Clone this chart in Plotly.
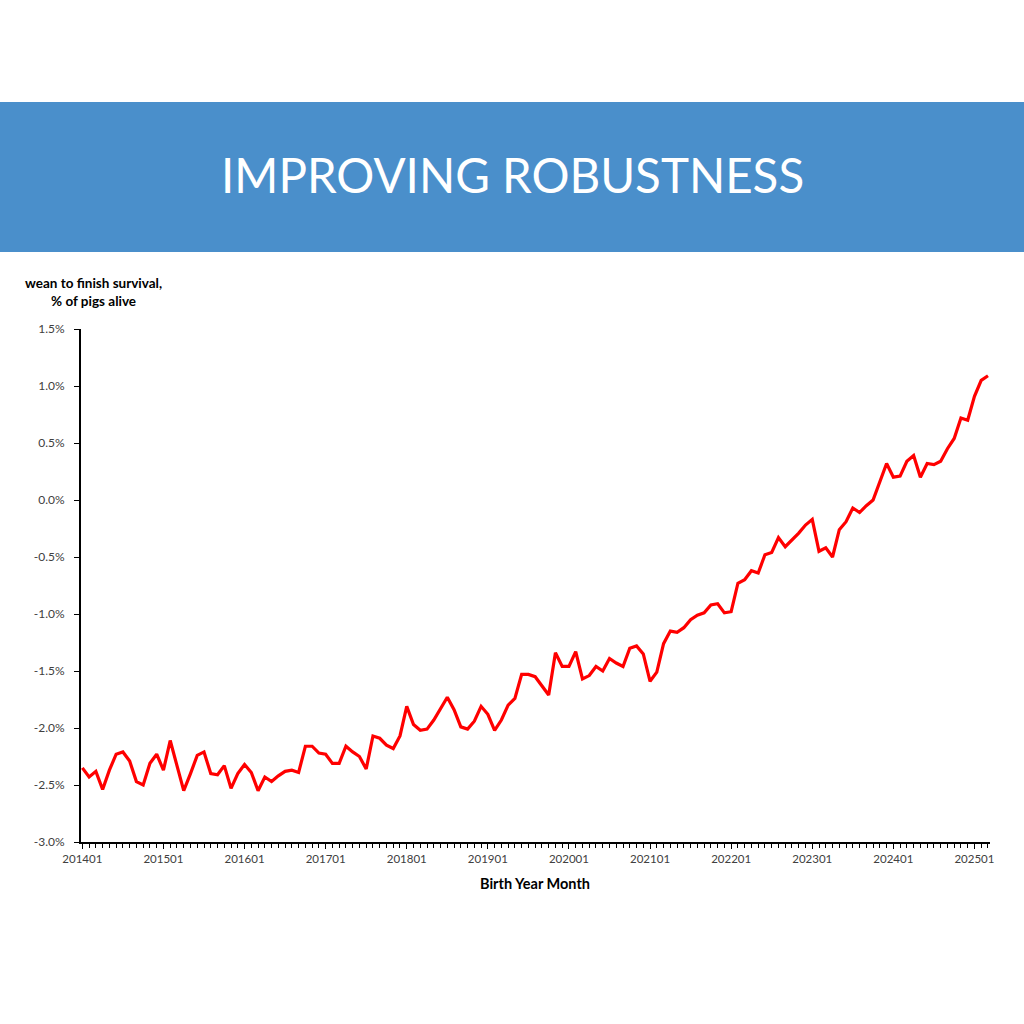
import plotly.graph_objects as go

# Months 201401 .. 202503 (135 monthly values)
years = list(range(2014, 2026))
months = [f"{y}{m:02d}" for y in years for m in range(1, 13)][:135]

survival = [
    -2.35, -2.43, -2.38, -2.54, -2.37, -2.23, -2.21, -2.29, -2.47, -2.50, -2.31, -2.23,
    -2.37, -2.11, -2.33, -2.55, -2.40, -2.24, -2.21, -2.40, -2.41, -2.33, -2.53, -2.40,
    -2.32, -2.39, -2.55, -2.43, -2.47, -2.42, -2.38, -2.37, -2.39, -2.16, -2.16, -2.22,
    -2.23, -2.31, -2.31, -2.16, -2.21, -2.25, -2.36, -2.07, -2.09, -2.15, -2.18, -2.07,
    -1.81, -1.97, -2.02, -2.01, -1.93, -1.83, -1.73, -1.84, -1.99, -2.01, -1.94, -1.81,
    -1.88, -2.02, -1.93, -1.80, -1.74, -1.53, -1.53, -1.55, -1.63, -1.71, -1.34, -1.46,
    -1.46, -1.33, -1.57, -1.54, -1.46, -1.50, -1.39, -1.43, -1.46, -1.30, -1.28, -1.35,
    -1.59, -1.51, -1.26, -1.15, -1.16, -1.12, -1.05, -1.01, -0.99, -0.92, -0.91, -0.99,
    -0.98, -0.73, -0.70, -0.62, -0.64, -0.48, -0.46, -0.33, -0.41, -0.35, -0.29, -0.22,
    -0.17, -0.45, -0.42, -0.50, -0.26, -0.19, -0.07, -0.11, -0.05, 0.00, 0.16, 0.32,
    0.20, 0.21, 0.34, 0.39, 0.20, 0.32, 0.31, 0.34, 0.45, 0.54, 0.72, 0.70,
    0.91, 1.05, 1.09,
]

x_tick_labels = [f"{y}01" for y in range(2014, 2026)]
y_ticks = [-3.0, -2.5, -2.0, -1.5, -1.0, -0.5, 0.0, 0.5, 1.0, 1.5]
y_tick_labels = ["-3.0%", "-2.5%", "-2.0%", "-1.5%", "-1.0%", "-0.5%", "0.0%", "0.5%", "1.0%", "1.5%"]

title_text = "IMPROVING ROBUSTNESS"
y_title = "wean to finish survival,<br>% of pigs alive"
x_title = "Birth Year Month"

idx = list(range(len(survival)))
x_tick_vals = [months.index(lbl) for lbl in x_tick_labels]

fig = go.Figure()
fig.add_trace(go.Scatter(
    x=idx, y=survival, mode="lines",
    line=dict(color="#FF0000", width=3.2),
    customdata=months, hovertemplate="%{customdata}: %{y:.2f}%<extra></extra>",
))

L, R, T, B = 81, 34, 329, 182
W, H = 1024, 1024
pw = W - L - R
ph = H - T - B

def py(pix):
    return (H - B - pix) / ph

def px(pix):
    return (pix - L) / pw

fig.update_layout(
    width=W, height=H,
    margin=dict(l=L, r=R, t=T, b=B),
    paper_bgcolor="white", plot_bgcolor="white",
    showlegend=False,
    font=dict(family="Lato, 'Open Sans', sans-serif", color="#404040"),
    xaxis=dict(
        range=[-0.2, 134.3], showgrid=False, zeroline=False,
        showline=True, linecolor="black", linewidth=2,
        tickmode="array", tickvals=x_tick_vals, ticktext=x_tick_labels,
        ticks="outside", ticklen=5, tickwidth=1, tickcolor="black",
        tickfont=dict(size=11.5, color="#404040"),
        minor=dict(tickmode="linear", tick0=0, dtick=1, ticks="outside",
                   ticklen=4, tickwidth=1, tickcolor="black"),
    ),
    yaxis=dict(
        range=[-3.0, 1.5], showgrid=False, zeroline=False,
        showline=True, linecolor="black", linewidth=2,
        tickmode="array", tickvals=y_ticks, ticktext=y_tick_labels,
        ticks="outside", ticklen=5, tickwidth=1, tickcolor="black",
        tickfont=dict(size=12, color="#404040"),
        ticklabelstandoff=7,
    ),
    shapes=[dict(
        type="rect", xref="paper", yref="paper",
        x0=px(-10), x1=px(W + 10), y0=py(252), y1=py(102),
        fillcolor="#4A8FCB", line=dict(width=0), layer="below",
    )],
    annotations=[
        dict(text=title_text, xref="paper", yref="paper",
             x=px(512), y=py(174), xanchor="center", yanchor="middle",
             showarrow=False, font=dict(size=47.5, color="white", family="Lato, sans-serif")),
        dict(text=y_title, xref="paper", yref="paper",
             x=px(93), y=py(292), xanchor="center", yanchor="middle",
             showarrow=False, align="center",
             font=dict(size=13.5, color="black", family="Lato, sans-serif", weight="bold")),
        dict(text=x_title, xref="paper", yref="paper",
             x=px(535), y=py(883), xanchor="center", yanchor="middle",
             showarrow=False,
             font=dict(size=14.5, color="black", family="Lato, sans-serif", weight="bold")),
    ],
)

fig.write_html("out.html", config={"displayModeBar": False},
               post_script="document.body.style.margin='0';")
